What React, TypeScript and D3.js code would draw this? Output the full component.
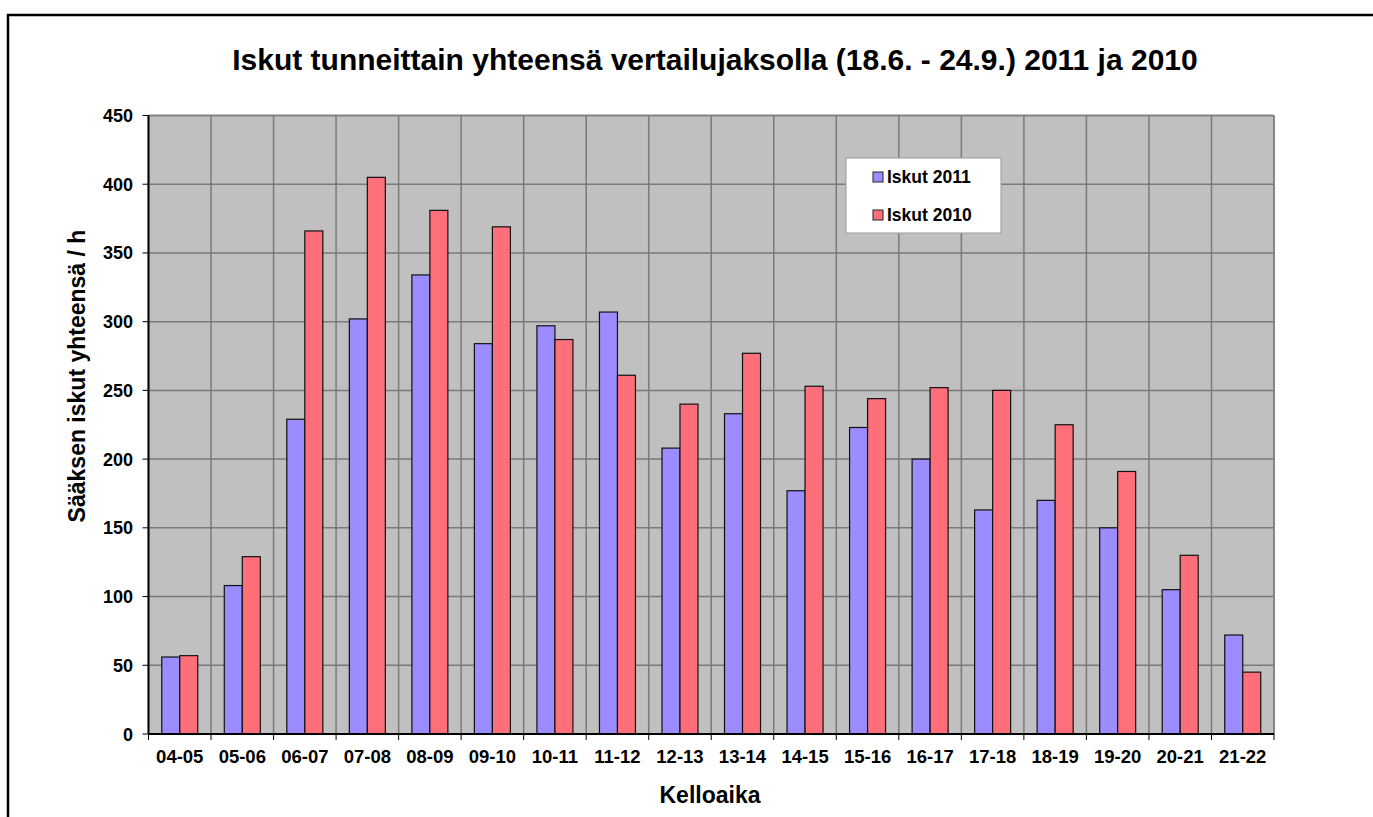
import React, { useEffect } from "react";
import * as d3 from "d3";

const categories = ["04-05","05-06","06-07","07-08","08-09","09-10","10-11","11-12","12-13","13-14","14-15","15-16","16-17","17-18","18-19","19-20","20-21","21-22"];
const iskut2011 = [56,108,229,302,334,284,297,307,208,233,177,223,200,163,170,150,105,72];
const iskut2010 = [57,129,366,405,381,369,287,261,240,277,253,244,252,250,225,191,130,45];
const seriesNames = ["Iskut 2011","Iskut 2010"];
const seriesColors = ["#9B8CFF","#FF6F7A"];
const yTicks = [0,50,100,150,200,250,300,350,400,450];

const W = 1373, H = 817;
const left = 148.5, right = 1274, top = 115.5, bottom = 734;
const font = "'Liberation Sans', Arial, sans-serif";

export default function App() {
  useEffect(() => {
    document.body.style.margin = "0";
    document.body.style.overflow = "hidden";
    document.documentElement.style.overflow = "hidden";
  }, []);
  const x = d3.scaleBand<string>().domain(categories).range([left, right]).padding(0);
  const inner = d3.scaleBand<string>().domain(seriesNames).range([0, 36]);
  const y = d3.scaleLinear().domain([0, 450]).range([bottom, top]);
  const bw = x.bandwidth();
  const off = (bw - 36) / 2;
  const series = [iskut2011, iskut2010];
  const boundaries = categories.map((c) => x(c)!).concat([right]);

  return (
    <svg width={W} height={H} style={{ position: "absolute", left: 0, top: 0, background: "#fff", display: "block", overflow: "hidden" }} fontFamily={font}>
      <path d={`M8,${H + 5} L8,15 L${W + 5},15`} fill="none" stroke="#000" strokeWidth={2.5} />
      <text x={715} y={70} textAnchor="middle" fontSize={30} fontWeight="bold" fill="#000">
        Iskut tunneittain yhteensä vertailujaksolla (18.6. - 24.9.) 2011 ja 2010
      </text>
      <rect x={left} y={top} width={right - left} height={bottom - top} fill="#c0c0c0" />
      {yTicks.map((t) => (
        <line key={"gy" + t} x1={left} x2={right} y1={y(t)} y2={y(t)} stroke="#7a7a7a" strokeWidth={1.5} />
      ))}
      {boundaries.map((b, i) => (
        <line key={"gx" + i} x1={b} x2={b} y1={top} y2={bottom} stroke="#7a7a7a" strokeWidth={1.5} />
      ))}
      <line x1={left} x2={right} y1={top} y2={top} stroke="#808080" strokeWidth={1.5} />
      <line x1={right} x2={right} y1={top} y2={bottom} stroke="#808080" strokeWidth={1.5} />
      {categories.map((c, i) =>
        series.map((s, j) => (
          <rect
            key={c + j}
            x={x(c)! + off + inner(seriesNames[j])!}
            y={y(s[i])}
            width={inner.bandwidth()}
            height={bottom - y(s[i])}
            fill={seriesColors[j]}
            stroke="#111"
            strokeWidth={1.2}
          />
        ))
      )}
      <line x1={left} x2={left} y1={top} y2={bottom} stroke="#000" strokeWidth={2} />
      <line x1={left} x2={right} y1={bottom} y2={bottom} stroke="#000" strokeWidth={2} />
      {yTicks.map((t) => (
        <g key={"ty" + t}>
          <line x1={left - 6} x2={left} y1={y(t)} y2={y(t)} stroke="#000" strokeWidth={1} />
          <text x={133} y={y(t) + 6.5} textAnchor="end" fontSize={18} fontWeight="bold" fill="#000">{t}</text>
        </g>
      ))}
      {boundaries.map((b, i) => (
        <line key={"tx" + i} x1={b} x2={b} y1={bottom} y2={bottom + 6} stroke="#000" strokeWidth={1} />
      ))}
      {categories.map((c) => (
        <text key={"lx" + c} x={x(c)! + bw / 2} y={763} textAnchor="middle" fontSize={18.5} fontWeight="bold" fill="#000">{c}</text>
      ))}
      <text x={710} y={803} textAnchor="middle" fontSize={23} fontWeight="bold" fill="#000">Kelloaika</text>
      <text transform={`translate(85,376) rotate(-90)`} textAnchor="middle" fontSize={23} fontWeight="bold" fill="#000">
        Sääksen iskut yhteensä / h
      </text>
      <rect x={846} y={158} width={155} height={75} fill="#fff" stroke="#999" strokeWidth={1} />
      {seriesNames.map((n, j) => (
        <g key={n}>
          <rect x={873} y={172 + j * 38} width={10} height={10} fill={seriesColors[j]} stroke="#222" strokeWidth={1} />
          <text x={887} y={183 + j * 38} fontSize={17.5} fontWeight="bold" fill="#000">{n}</text>
        </g>
      ))}
    </svg>
  );
}
